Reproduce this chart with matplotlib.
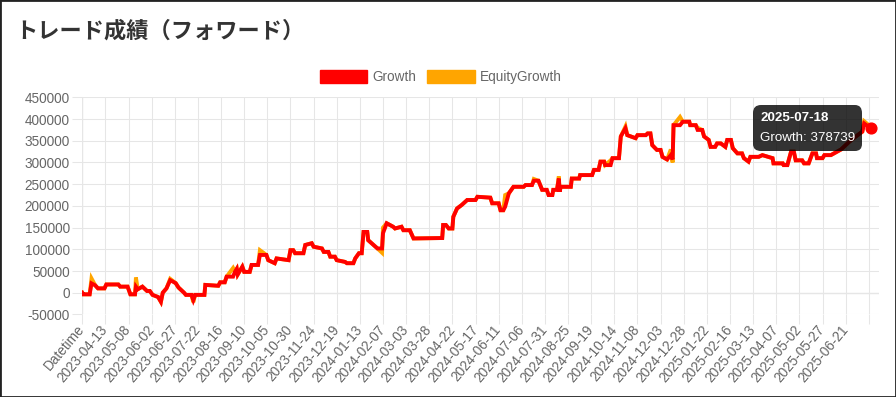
import pandas as pd
import matplotlib.pyplot as plt
from matplotlib.patches import Patch, Rectangle
from matplotlib.offsetbox import AnnotationBbox, TextArea, VPacker

plt.rcParams['font.family'] = ['Liberation Sans', 'Noto Sans CJK JP']

# カテゴリ（先頭は CSV ヘッダの "Datetime"）
first_day = '2023-03-20'
last_day = '2025-07-18'

# 読み取った折れ線の節点（日付, Growth）
knot_dates = [
    'Datetime', '2023-03-20', '2023-03-27', '2023-03-29', '2023-04-02', '2023-04-05', '2023-04-12',
    '2023-04-14', '2023-04-27', '2023-04-29', '2023-05-07', '2023-05-10', '2023-05-15', '2023-05-16',
    '2023-05-18', '2023-05-23', '2023-05-26', '2023-05-28', '2023-05-31', '2023-06-03', '2023-06-09',
    '2023-06-12', '2023-06-14', '2023-06-18', '2023-06-22', '2023-06-28', '2023-07-01', '2023-07-07',
    '2023-07-09', '2023-07-15', '2023-07-17', '2023-07-19', '2023-07-29', '2023-07-30', '2023-08-13',
    '2023-08-15', '2023-08-20', '2023-08-22', '2023-08-29', '2023-08-31', '2023-09-02', '2023-09-03',
    '2023-09-08', '2023-09-10', '2023-09-16', '2023-09-18', '2023-09-25', '2023-09-27', '2023-10-04',
    '2023-10-06', '2023-10-13', '2023-10-15', '2023-10-28', '2023-10-30', '2023-11-02', '2023-11-04',
    '2023-11-13', '2023-11-15', '2023-11-22', '2023-11-24', '2023-12-03', '2023-12-05', '2023-12-10',
    '2023-12-12', '2023-12-17', '2023-12-19', '2023-12-28', '2023-12-30', '2024-01-06', '2024-01-08',
    '2024-01-12', '2024-01-15', '2024-01-17', '2024-01-21', '2024-01-22', '2024-01-30', '2024-02-01',
    '2024-02-06', '2024-02-07', '2024-02-11', '2024-02-18', '2024-02-20', '2024-02-27', '2024-02-29',
    '2024-03-07', '2024-03-11', '2024-04-11', '2024-04-12', '2024-04-15', '2024-04-18', '2024-04-22',
    '2024-04-23', '2024-04-27', '2024-05-02', '2024-05-08', '2024-05-17', '2024-05-19', '2024-06-02',
    '2024-06-04', '2024-06-11', '2024-06-13', '2024-06-16', '2024-06-18', '2024-06-22', '2024-06-27',
    '2024-07-08', '2024-07-10', '2024-07-17', '2024-07-19', '2024-07-24', '2024-07-28', '2024-08-02',
    '2024-08-04', '2024-08-08', '2024-08-09', '2024-08-13', '2024-08-15', '2024-08-16', '2024-08-17',
    '2024-08-28', '2024-08-29', '2024-09-06', '2024-09-07', '2024-09-20', '2024-09-22', '2024-09-27',
    '2024-09-29', '2024-10-03', '2024-10-04', '2024-10-10', '2024-10-12', '2024-10-19', '2024-10-21',
    '2024-10-26', '2024-10-28', '2024-11-06', '2024-11-08', '2024-11-17', '2024-11-19', '2024-11-22',
    '2024-11-24', '2024-11-29', '2024-12-03', '2024-12-05', '2024-12-10', '2024-12-14', '2024-12-16',
    '2024-12-17', '2024-12-24', '2024-12-27', '2025-01-03', '2025-01-04', '2025-01-10', '2025-01-12',
    '2025-01-17', '2025-01-19', '2025-01-24', '2025-01-26', '2025-01-31', '2025-02-02', '2025-02-06',
    '2025-02-11', '2025-02-13', '2025-02-17', '2025-02-19', '2025-02-24', '2025-03-01', '2025-03-03',
    '2025-03-08', '2025-03-10', '2025-03-19', '2025-03-23', '2025-04-03', '2025-04-04', '2025-04-14',
    '2025-04-15', '2025-04-19', '2025-04-23', '2025-04-26', '2025-04-28', '2025-05-05', '2025-05-07',
    '2025-05-12', '2025-05-16', '2025-05-20', '2025-05-21', '2025-05-27', '2025-05-29', '2025-06-05',
    '2025-06-16', '2025-06-25', '2025-07-02', '2025-07-09', '2025-07-11', '2025-07-16', '2025-07-18',
]

growth = [
    0, -3700, -3700, 21600, 17000, 10000, 10000,
    19000, 19000, 14000, 14000, -3700, -3700, 14000,
    8000, 14000, 8000, 4000, 4000, -5000, -10000,
    -21000, 0, 10000, 29000, 22000, 12000, 0,
    -5000, -5000, -17000, -5000, -5000, 18000, 16000,
    24000, 24000, 37000, 37000, 48000, 55000, 42000,
    60000, 48000, 48000, 64000, 64000, 87000, 87000,
    75000, 68000, 79000, 75000, 98000, 98000, 91000,
    91000, 110000, 114000, 106000, 102000, 94000, 94000,
    83000, 83000, 75000, 71000, 68000, 68000, 79000,
    91000, 91000, 140000, 140000, 121000, 106000, 102000,
    102000, 137000, 160000, 152000, 148000, 152000, 144000,
    144000, 125000, 126000, 156000, 156000, 148000, 148000,
    175000, 194000, 202000, 213600, 213600, 221000, 219000,
    206000, 206000, 190000, 190000, 198000, 229000, 244000,
    244000, 248000, 248000, 258000, 258000, 237000, 237000,
    225000, 225000, 237000, 237000, 263000, 233000, 244000,
    244000, 263000, 263000, 271000, 271000, 283000, 283000,
    302000, 302000, 294000, 294000, 310000, 310000, 360000,
    379000, 363000, 356000, 363000, 363000, 367000, 367000,
    340000, 329000, 329000, 313000, 307000, 317000, 307000,
    386000, 386000, 394000, 394000, 386000, 386000, 375000,
    375000, 360000, 352000, 336000, 336000, 344000, 344000,
    336000, 352000, 352000, 333000, 321000, 321000, 310000,
    302000, 313000, 313000, 317000, 310000, 298000, 298000,
    294000, 294000, 325000, 325000, 305000, 305000, 298000,
    298000, 321000, 321000, 310000, 310000, 317000, 317000,
    330000, 348000, 360000, 371000, 390000, 382000, 378739,
]

# EquityGrowth は Growth とほぼ同じ、違う所だけ
equity_diff = {
    '2023-03-29': 33000, '2023-05-16': 35000, '2023-06-22': 32000, '2023-07-17': -22000,
    '2023-08-29': 57000, '2023-09-27': 98000, '2024-02-06': 92000,
    '2024-02-07': 150000, '2024-06-18': 225000,
    '2024-07-19': 262000, '2024-08-15': 268000, '2024-10-10': 305000, '2024-10-26': 383000,
    '2024-12-14': 330000, '2024-12-16': 300000, '2024-12-24': 405000, '2025-01-12': 380000,
    '2025-07-11': 395000, '2025-07-16': 386000,
}
equity = [equity_diff.get(d, g) for d, g in zip(knot_dates, growth)]

labels = ['Datetime'] + [d.strftime('%Y-%m-%d') for d in pd.date_range(first_day, last_day)]
xs = [labels.index(d) for d in knot_dates]

fig = plt.figure(figsize=(8.96, 3.97), dpi=100)
ax = fig.add_axes([0.0918, 0.208, 0.8892, 0.5467])

ax.plot(xs, equity, color='#ffa500', lw=2.8, zorder=3, solid_joinstyle='miter')
ax.plot(xs, growth, color='#ff0000', lw=2.8, zorder=4, solid_joinstyle='miter')
ax.scatter([xs[-1]], [growth[-1]], s=60, color='#ff0000', zorder=5)

ax.set_xlim(0, 861)
ax.set_ylim(-50000, 450000)
yt = list(range(-50000, 450001, 50000))
ax.set_yticks(yt)
ax.set_yticklabels([str(v) for v in yt], fontsize=9.8)
xt = list(range(0, len(labels), 25))
ax.set_xticks(xt)
ax.set_xticklabels([labels[i] if i <= 825 else '' for i in xt], rotation=50, ha='right',
                   va='center', rotation_mode='anchor', fontsize=9.8)

ax.grid(True, color='#e6e6e6', lw=0.75, zorder=0)
ax.axhline(0, color='#b0b0b0', lw=0.8, zorder=1)
ax.axvline(0, color='#b0b0b0', lw=0.8, zorder=1)
ax.tick_params(length=7, width=0.75, color='#e6e6e6', labelcolor='#666666', pad=2)
for s in ax.spines.values():
    s.set_visible(False)

# 凡例
handles = [Patch(facecolor='#ff0000', edgecolor='#ff0000', label='Growth'),
           Patch(facecolor='#ffa500', edgecolor='#ffa500', label='EquityGrowth')]
leg = fig.legend(handles=handles, loc='center', bbox_to_anchor=(0.492, 0.806), ncol=2,
                 frameon=False, fontsize=9.8, handlelength=3.5, handleheight=1.1,
                 handletextpad=0.4, columnspacing=0.75, borderpad=0)
for t in leg.get_texts():
    t.set_color('#666666')

# ツールチップ
tip = VPacker(children=[
    TextArea('2025-07-18', textprops=dict(color='white', fontsize=9.6, fontweight='bold')),
    TextArea('Growth: 378739', textprops=dict(color='white', fontsize=9.6)),
], align='left', pad=0, sep=6)
ab = AnnotationBbox(tip, (xs[-1], growth[-1]), xybox=(-63, 0), boxcoords='offset pixels',
                    box_alignment=(0.5, 0.5), frameon=True,
                    bboxprops=dict(boxstyle='round,pad=0.5,rounding_size=0.55', fc=(0, 0, 0, 0.8), ec='none'),
                    annotation_clip=False, zorder=10)
ax.add_artist(ab)

fig.text(0.017, 1 - 31 / 397, 'トレード成績（フォワード）', fontsize=16, fontweight='bold',
         color='#333333', va='center', ha='left', family=['Noto Sans CJK JP'])

fig.patches.append(Rectangle((0, 0), 1, 1, transform=fig.transFigure, fill=False,
                             ec='#222222', lw=2))

fig.savefig('out.png', dpi=100)
